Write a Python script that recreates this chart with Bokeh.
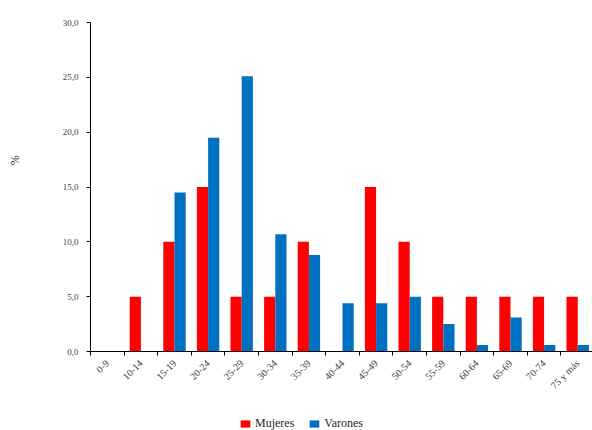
import math
from bokeh.plotting import figure
from bokeh.layouts import column, row
from bokeh.core.properties import value
from bokeh.models import ColumnDataSource, FixedTicker, Legend, LegendItem, Range1d
from bokeh.embed import file_html
from bokeh.resources import INLINE

categories = ["0-9", "10-14", "15-19", "20-24", "25-29", "30-34", "35-39", "40-44",
              "45-49", "50-54", "55-59", "60-64", "65-69", "70-74", "75 y más"]
mujeres = [0, 5, 10, 15, 5, 5, 10, 0, 15, 10, 5, 5, 5, 5, 5]
varones = [0, 0, 14.5, 19.5, 25.1, 10.7, 8.8, 4.4, 4.4, 5.0, 2.5, 0.6, 3.1, 0.6, 0.6]
y_ticks = [0, 5, 10, 15, 20, 25, 30]

FONT = "Liberation Serif"
RED = "#FF0000"
BLUE = "#0070C0"

n = len(categories)
centers = [i + 0.5 for i in range(n)]
bw = 1 / 3
src = ColumnDataSource(dict(
    xm=[c - bw / 2 for c in centers],
    xv=[c + bw / 2 for c in centers],
    m=mujeres, v=varones,
))

# main chart
p = figure(frame_width=502, frame_height=329, output_backend="svg", toolbar_location=None,
           x_range=Range1d(0, 14.94), y_range=Range1d(0, 30),
           min_border_left=60, min_border_top=22, min_border_right=0, min_border_bottom=60)
p.outline_line_color = None
p.xgrid.grid_line_color = None
p.ygrid.grid_line_color = None

p.vbar(x="xm", top="m", width=bw, source=src, fill_color=RED, line_color=None)
p.vbar(x="xv", top="v", width=bw, source=src, fill_color=BLUE, line_color=None)

xa = p.xaxis[0]
xa.ticker = FixedTicker(ticks=centers, minor_ticks=list(range(n + 1)))
xa.major_label_overrides = {c: lab for c, lab in zip(centers, categories)}
xa.major_tick_out = 0
xa.major_tick_in = 0
xa.minor_tick_out = 4
xa.minor_tick_in = 0
xa.minor_tick_line_color = "black"
xa.axis_line_color = "black"
xa.major_label_orientation = math.pi / 4
xa.major_label_text_font = FONT
xa.major_label_text_font_size = "10px"
xa.major_label_text_color = "#404040"
xa.major_label_standoff = 6

ya = p.yaxis[0]
ya.ticker = FixedTicker(ticks=y_ticks, minor_ticks=[])
ya.major_label_overrides = {t: f"{t:.1f}".replace(".", ",") for t in y_ticks}
ya.major_tick_out = 4
ya.major_tick_in = 0
ya.axis_line_color = "black"
ya.major_label_text_font = FONT
ya.major_label_text_font_size = "9px"
ya.major_label_text_color = "#404040"
ya.major_label_standoff = 8

# narrow strip on the left carrying the "%" axis title
H = 22 + 329 + 60
pl = figure(width=30, height=H, output_backend="svg", toolbar_location=None,
            x_range=Range1d(0, 30), y_range=Range1d(0, H), min_border=0)
pl.axis.visible = False
pl.grid.visible = False
pl.outline_line_color = None
pl.text(x=[14], y=[H - 172], text=["%"], angle=math.pi / 2, text_align="center",
        text_baseline="middle", text_font=value(FONT), text_font_size="12px",
        text_color="#262626")

# strip below carrying the legend (proxy bars sit outside the visible range)
pb = figure(width=592, height=24, output_backend="svg", toolbar_location=None,
            x_range=Range1d(0, 1), y_range=Range1d(0, 1), min_border=0)
pb.axis.visible = False
pb.grid.visible = False
pb.outline_line_color = None
lm = pb.vbar(x=[5], top=[1], width=0.1, fill_color=RED, line_color=None)
lv = pb.vbar(x=[5], top=[1], width=0.1, fill_color=BLUE, line_color=None)
legend = Legend(items=[LegendItem(label="Mujeres", renderers=[lm]),
                       LegendItem(label="Varones", renderers=[lv])],
                orientation="horizontal", location=(239, 4),
                label_text_font=FONT, label_text_font_size="12px", label_text_color="#262626",
                glyph_width=12, glyph_height=9, spacing=14, border_line_color=None,
                background_fill_alpha=0, margin=0, padding=1, label_height=12,
                label_standoff=4)
pb.add_layout(legend, "center")

layout = column(row(pl, p), pb)
open("out.html", "w").write(file_html(layout, INLINE))
